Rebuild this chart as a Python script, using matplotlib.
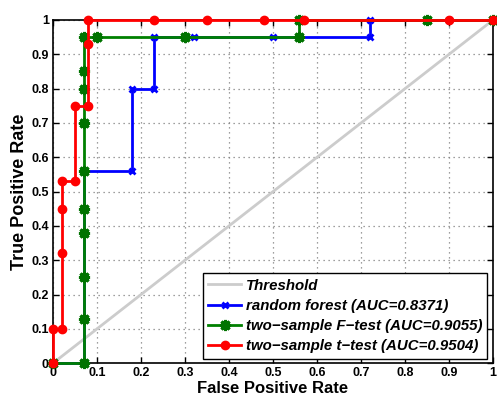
import matplotlib
matplotlib.use("Agg")
import matplotlib.pyplot as plt
import numpy as np

plt.rcParams['font.family'] = ['Liberation Sans', 'DejaVu Sans']

# Data
thr_x = [0, 1]
thr_y = [0, 1]

rf_fpr = [0, 0.07, 0.07, 0.18, 0.18, 0.23, 0.23, 0.32, 0.50, 0.72, 0.72, 0.90, 1.0]
rf_tpr = [0, 0.0, 0.56, 0.56, 0.80, 0.80, 0.95, 0.95, 0.95, 0.95, 1.0, 1.0, 1.0]

f_fpr = [0, 0.07, 0.07, 0.07, 0.07, 0.07, 0.07, 0.07, 0.07, 0.07, 0.07, 0.10, 0.30, 0.56, 0.56, 0.85, 1.0]
f_tpr = [0, 0.0, 0.13, 0.25, 0.38, 0.45, 0.56, 0.70, 0.80, 0.85, 0.95, 0.95, 0.95, 0.95, 1.0, 1.0, 1.0]

t_fpr = [0, 0, 0.02, 0.02, 0.02, 0.02, 0.05, 0.05, 0.08, 0.08, 0.08, 0.23, 0.35, 0.48, 0.57, 0.90, 1.0]
t_tpr = [0, 0.10, 0.10, 0.32, 0.45, 0.53, 0.53, 0.75, 0.75, 0.93, 1.0, 1.0, 1.0, 1.0, 1.0, 1.0, 1.0]

labels = ['Threshold', 'random forest (AUC=0.8371)',
          'two\u2212sample F\u2212test (AUC=0.9055)',
          'two\u2212sample t\u2212test (AUC=0.9504)']

fig = plt.figure(figsize=(4.97, 4.0), dpi=100)
ax = fig.add_axes([0.1066, 0.092, 0.8854, 0.858])

ax.plot(thr_x, thr_y, color=(0.8, 0.8, 0.8), lw=2, label=labels[0], zorder=3)
ax.plot(rf_fpr, rf_tpr, color='blue', lw=2, marker='x', ms=5, mew=2,
        label=labels[1], clip_on=False, zorder=4)
ax.plot(f_fpr, f_tpr, color='green', lw=2, marker=(8, 2, 0), ms=8, mew=2.2,
        markeredgecolor=(0.0, 0.45, 0.0), label=labels[2], clip_on=False, zorder=5)
ax.plot(t_fpr, t_tpr, color='red', lw=2, marker='o', ms=6, label=labels[3],
        clip_on=False, zorder=6)

ax.set_xlim(0, 1)
ax.set_ylim(0, 1)
ticks = np.round(np.arange(0, 1.01, 0.1), 1)
ax.set_xticks(ticks)
ax.set_yticks(ticks)
ticklabels = ['0'] + ['%.1f' % t for t in ticks[1:-1]] + ['1']
ax.set_xticklabels(ticklabels, fontweight='bold', fontsize=9)
ax.set_yticklabels(ticklabels, fontweight='bold', fontsize=9)
ax.tick_params(direction='in', top=True, right=True, length=4, width=1, pad=3)
ax.grid(True, linestyle=(0, (1, 3)), color='gray', lw=0.9)
ax.set_axisbelow(True)
for s in ax.spines.values():
    s.set_linewidth(1.2)
    s.set_color('black')
    s.set_zorder(2)

ax.set_xlabel('False Positive Rate', fontweight='bold', fontsize=12, labelpad=1)
ax.set_ylabel('True Positive Rate', fontweight='bold', fontsize=13, labelpad=2)

leg = ax.legend(loc='lower right', bbox_to_anchor=(0.987, 0.013),
                prop={'weight': 'bold', 'style': 'italic', 'size': 10.8},
                handlelength=2.2, fancybox=False, framealpha=1, edgecolor='black',
                borderpad=0.35, labelspacing=0.42, handletextpad=0.3, borderaxespad=0)
leg.get_frame().set_linewidth(1.0)
leg.set_zorder(10)

fig.savefig('out.png', dpi=100)
